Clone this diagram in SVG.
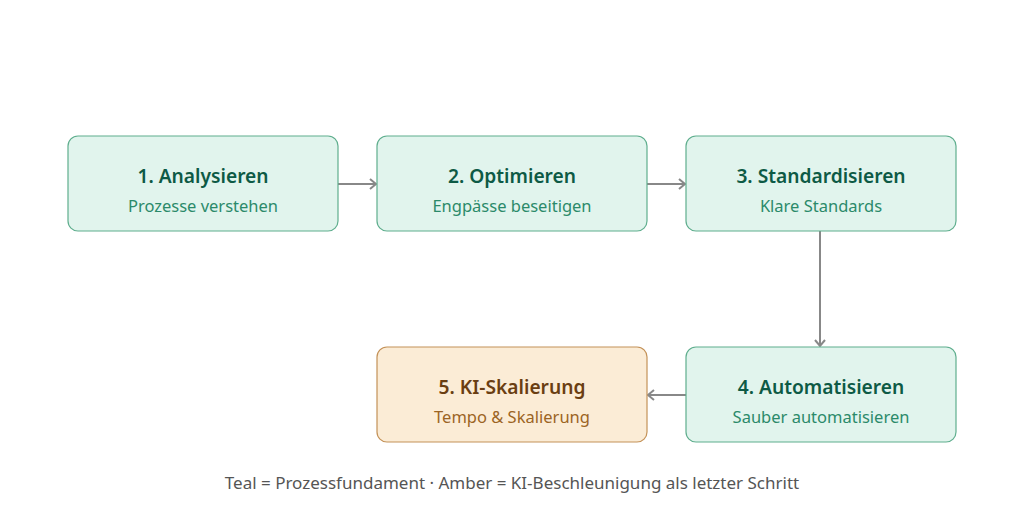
<svg xmlns="http://www.w3.org/2000/svg" width="1024" height="527" viewBox="0 0 1024 527">
<defs>
<marker id="arr" markerWidth="12" markerHeight="12" refX="9" refY="6" orient="auto" markerUnits="userSpaceOnUse">
<path d="M3,1 L9,6 L3,11" fill="none" stroke="#888888" stroke-width="2"/>
</marker>
<style>
text{font-family:"Segoe UI","Noto Sans","Open Sans",sans-serif;text-anchor:middle}
.teal rect{fill:#e1f4ed;stroke:#5fae8e;stroke-width:1.2}
.amber rect{fill:#fbecd6;stroke:#c49258;stroke-width:1.2}
.t{font-size:19.2px;font-weight:600}
.s{font-size:16.5px}
.teal .t{fill:#0d5a45}
.teal .s{fill:#2b8a6a}
.amber .t{fill:#6a3e12}
.amber .s{fill:#9b6424}
.conn line{stroke:#888888;stroke-width:2;fill:none}
.note{font-size:17px;fill:#555555}
</style>
</defs>
<rect width="1024" height="527" fill="#ffffff"/>
<g id="connectors" class="conn">
<line x1="338" y1="184" x2="376" y2="184" marker-end="url(#arr)"/>
<line x1="647" y1="184" x2="685" y2="184" marker-end="url(#arr)"/>
<line x1="820" y1="231" x2="820" y2="346" marker-end="url(#arr)"/>
<line x1="686" y1="395" x2="648" y2="395" marker-end="url(#arr)"/>
</g>
<g id="n1" class="teal">
<rect x="68" y="136" width="270" height="95" rx="10"/>
<text class="t" x="203" y="183">1. Analysieren</text>
<text class="s" x="203" y="212">Prozesse verstehen</text>
</g>
<g id="n2" class="teal">
<rect x="377" y="136" width="270" height="95" rx="10"/>
<text class="t" x="512" y="183">2. Optimieren</text>
<text class="s" x="512" y="212">Engpässe beseitigen</text>
</g>
<g id="n3" class="teal">
<rect x="686" y="136" width="270" height="95" rx="10"/>
<text class="t" x="821" y="183">3. Standardisieren</text>
<text class="s" x="821" y="212">Klare Standards</text>
</g>
<g id="n4" class="teal">
<rect x="686" y="347" width="270" height="95" rx="10"/>
<text class="t" x="821" y="394">4. Automatisieren</text>
<text class="s" x="821" y="423">Sauber automatisieren</text>
</g>
<g id="n5" class="amber">
<rect x="377" y="347" width="270" height="95" rx="10"/>
<text class="t" x="512" y="394">5. KI-Skalierung</text>
<text class="s" x="512" y="423">Tempo &amp; Skalierung</text>
</g>
<text class="note" x="512" y="489">Teal = Prozessfundament · Amber = KI-Beschleunigung als letzter Schritt</text>
</svg>
